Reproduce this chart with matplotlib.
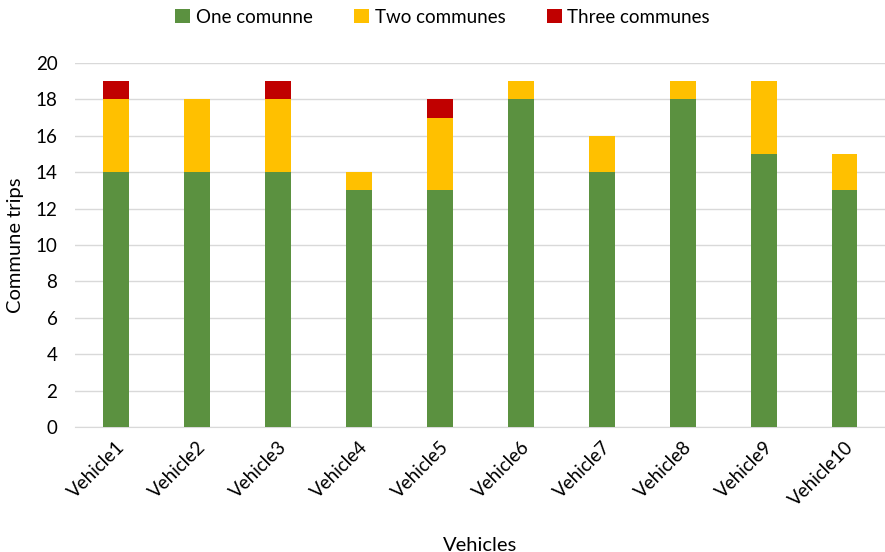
import matplotlib
matplotlib.use("Agg")
import matplotlib.pyplot as plt
import numpy as np

plt.rcParams['font.family'] = ['Lato', 'DejaVu Sans']

# trips per vehicle, split by how many communes were visited
vehicles = ['Vehicle1', 'Vehicle2', 'Vehicle3', 'Vehicle4', 'Vehicle5',
            'Vehicle6', 'Vehicle7', 'Vehicle8', 'Vehicle9', 'Vehicle10']
one_commune = [14, 14, 14, 13, 13, 18, 14, 18, 15, 13]
two_communes = [4, 4, 4, 1, 4, 1, 2, 1, 4, 2]
three_communes = [1, 0, 1, 0, 1, 0, 0, 0, 0, 0]

series = [('One comunne', one_commune, '#5B9140'),
          ('Two communes', two_communes, '#FFC000'),
          ('Three communes', three_communes, '#C00000')]

fig = plt.figure(figsize=(8.85, 5.52), dpi=100)
ax = fig.add_axes([0.0853, 0.2264, 0.9147, 0.6595])

x = np.arange(len(vehicles))
bottom = np.zeros(len(vehicles))
for name, vals, color in series:
    vals = np.array(vals)
    ax.bar(x, vals, 0.32, bottom=bottom, color=color, label=name, zorder=3)
    bottom += vals

ax.set_xlim(-0.5, len(vehicles) - 0.5)
ax.set_ylim(0, 20)
ax.set_yticks(range(0, 21, 2))
ax.yaxis.grid(True, color='#D9D9D9', linewidth=1, zorder=0)
for s in ['top', 'right', 'left']:
    ax.spines[s].set_visible(False)
ax.spines['bottom'].set_color('#D9D9D9')
ax.tick_params(axis='both', length=0, labelsize=13.5, colors='black')
ax.tick_params(axis='y', pad=13)
ax.set_xticks(x)
ax.set_xticklabels(vehicles, rotation=45, ha='right', rotation_mode='anchor')
ax.tick_params(axis='x', pad=8)

ax.set_ylabel('Commune trips', fontsize=14.5, labelpad=8)
ax.set_xlabel('Vehicles', fontsize=14.5, labelpad=20)

ax.legend(loc='center', bbox_to_anchor=(0.5, 0.969), bbox_transform=fig.transFigure,
          ncol=3, frameon=False, fontsize=13.5, handlelength=0.8, handleheight=0.8,
          handletextpad=0.3, columnspacing=2.2)

fig.savefig('out.png', dpi=100)
